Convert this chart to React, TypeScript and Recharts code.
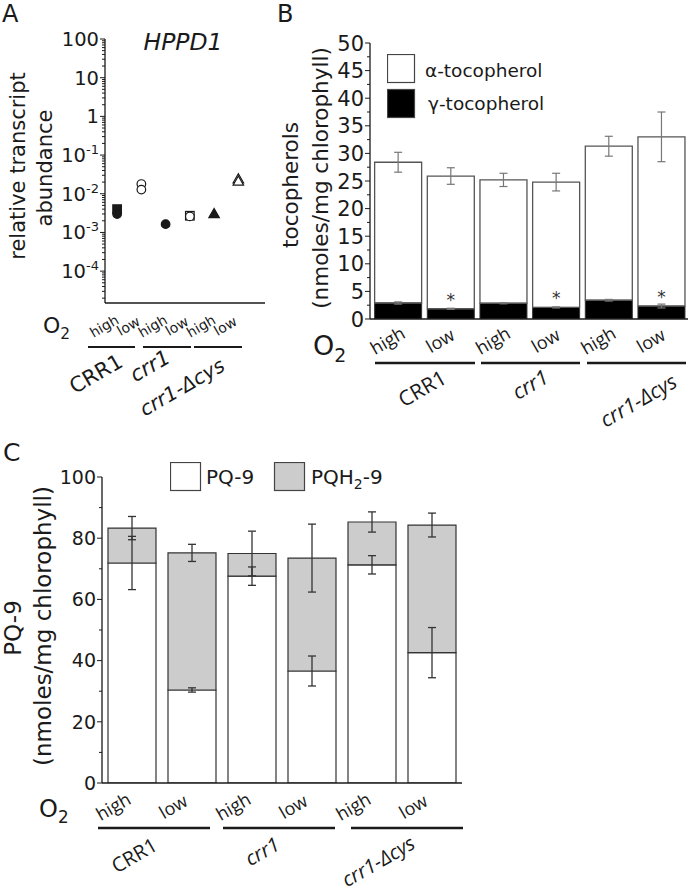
import React from 'react';
import {
  ScatterChart, Scatter, XAxis, YAxis, BarChart, Bar, ErrorBar, LabelList, Legend,
} from 'recharts';

const DEJAVU = '"DejaVu Sans", Verdana, sans-serif';
const OPEN = '"Open Sans", "DejaVu Sans", sans-serif';
const INK = '#1a1a1a';
const AXIS = { stroke: INK, strokeWidth: 1.3 };

// ---- A: HPPD1 transcript abundance (one value per marker, index = sample) ----
const aO2 = ['high', 'low', 'high', 'low', 'high', 'low'];
const aFilledSquare = [4.0e-3, null, null, null, null, null];
const aFilledCircle = [3.0e-3, null, 1.64e-3, null, null, null];
const aOpenSquare = [null, null, null, 2.7e-3, null, null];
const aOpenCircle = [null, 1.78e-2, null, 2.6e-3, null, null];
const aOpenCircle2 = [null, 1.28e-2, null, null, null, null];
const aFilledTriangle = [null, null, null, null, 2.9e-3, null];
const aOpenTriangle = [null, null, null, null, null, 2.3e-2];
const aOpenTriangle2 = [null, null, null, null, null, 2.0e-2];

// ---- B: tocopherols ----
const bO2 = ['high', 'low', 'high', 'low', 'high', 'low'];
const bGamma = [2.9, 1.85, 2.85, 2.1, 3.4, 2.35];
const bGammaErr = [0.2, 0.1, 0.1, 0.1, 0.15, 0.35];
const bAlpha = [25.5, 24.05, 22.35, 22.7, 27.9, 30.65];
const bTotalErr = [1.8, 1.5, 1.2, 1.6, 1.8, 4.5];
const bStars = ['', '*', '', '*', '', '*'];

// ---- C: PQ-9 ----
const cO2 = ['high', 'low', 'high', 'low', 'high', 'low'];
const cPQ = [71.9, 30.4, 67.6, 36.6, 71.3, 42.6];
const cPQErr = [8.7, 0.7, 3.0, 4.9, 3.0, 8.2];
const cPQH2 = [11.4, 44.8, 7.4, 36.9, 14.0, 41.7];
const cTotalErr = [3.8, 2.8, 7.3, 11.1, 3.3, 3.9];

const toPoints = (vals: (number | null)[]) =>
  vals.flatMap((v, i) => (v == null ? [] : [{ x: i + 1, y: v }]));

const aTicks: number[] = [];
for (let e = -5; e <= 2; e++) {
  for (let k = 1; k <= 9; k++) {
    const v = k * Math.pow(10, e);
    if (v >= 1.5e-5 && v <= 100.0001 && !(k > 1 && e === 2)) aTicks.push(Number(v.toPrecision(3)));
  }
}
const bTicks = Array.from({ length: 21 }, (_, i) => i * 2.5);
const cTicks = Array.from({ length: 11 }, (_, i) => i * 10);

const bData = bO2.map((o2, i) => ({
  o2, gamma: bGamma[i], gammaErr: bGammaErr[i], alpha: bAlpha[i], totalErr: bTotalErr[i], star: bStars[i],
}));
const cData = cO2.map((o2, i) => ({
  o2, pq: cPQ[i], pqErr: cPQErr[i], pqh2: cPQH2[i], totalErr: cTotalErr[i],
}));

const marker = (kind: string, filled: boolean) => (props: any) => {
  const { cx, cy } = props;
  const fill = filled ? INK : '#fff';
  if (kind === 'circle') return <circle cx={cx} cy={cy} r={4.3} fill={fill} stroke={INK} strokeWidth={1.2} />;
  if (kind === 'square') return <rect x={cx - 4.3} y={cy - 4.3} width={8.6} height={8.6} fill={fill} stroke={INK} strokeWidth={1.2} />;
  const s = 10.5;
  const h = s * 0.866;
  return (
    <polygon
      points={`${cx},${cy - (h * 2) / 3} ${cx - s / 2},${cy + h / 3} ${cx + s / 2},${cy + h / 3}`}
      fill={fill} stroke={INK} strokeWidth={1.2}
    />
  );
};

const LogTick = (props: any) => {
  const { x, y, payload } = props;
  const v = payload.value;
  const lg = Math.log10(v);
  const exp = Math.round(lg);
  const major = Math.abs(lg - exp) < 1e-6;
  return (
    <g>
      <line x1={x - (major ? 5 : 3)} x2={x} y1={y} y2={y} stroke={INK} strokeWidth={1} />
      {major && (
        <text x={x - 6} y={y + 7} textAnchor="end" fontSize={19.5} fontFamily={DEJAVU} fill={INK}>
          {exp >= 0 ? String(Math.pow(10, exp)) : (
            <>10<tspan dy={-8} fontSize={13}>{String(exp)}</tspan></>
          )}
        </text>
      )}
    </g>
  );
};

const LinTick = (props: any) => {
  const { x, y, payload, step, size } = props;
  const v = payload.value;
  const major = Math.abs(v / step - Math.round(v / step)) < 1e-6;
  return (
    <g>
      <line x1={x - (major ? 5 : 3)} x2={x} y1={y} y2={y} stroke={INK} strokeWidth={1} />
      {major && (
        <text x={x - 6} y={y + size * 0.36} textAnchor="end" fontSize={size} fontFamily={DEJAVU} fill={INK}>
          {v}
        </text>
      )}
    </g>
  );
};

// slanted O2 label, centred on its own middle so it sits right with or without the turn
const SlantTick = (props: any) => {
  const { x, y, payload, labels, offX, offY, size, family } = props;
  const text = labels ? labels[payload.value - 1] : payload.value;
  const cx = x + offX;
  const cy = y + offY;
  return (
    <g transform={`translate(${cx},${cy}) rotate(-30)`}>
      <text x={0} y={0} textAnchor="middle" dominantBaseline="central" fontSize={size} fontFamily={family} fill={INK}>
        {text}
      </text>
    </g>
  );
};

const StarLabel = (props: any) => {
  const { x, y, width, value } = props;
  if (!value) return null;
  return (
    <text x={x + width / 2} y={y - 3} textAnchor="middle" fontSize={17} fontFamily={DEJAVU} fill="#333" stroke="none">
      {value}
    </text>
  );
};

function PanelA() {
  return (
    <ScatterChart width={280} height={345} margin={{ top: 39, right: 15, bottom: 12, left: 45 }}>
      <XAxis
        type="number" dataKey="x" domain={[0.5, 7.1]} allowDataOverflow ticks={[1, 2, 3, 4, 5, 6]} interval={0}
        height={30} tickSize={0} tickMargin={0} tickLine={false} axisLine={AXIS}
        tick={(p: any) => <SlantTick {...p} labels={aO2} offX={-13} offY={23} size={14} family={DEJAVU} />}
      />
      <YAxis
        type="number" dataKey="y" scale="log" domain={[1.5e-5, 100]} allowDataOverflow ticks={aTicks} interval={0}
        width={60} tickSize={0} tickMargin={0} tickLine={false} axisLine={AXIS} tick={<LogTick />}
      />
      <Scatter data={toPoints(aOpenSquare)} shape={marker('square', false)} isAnimationActive={false} />
      <Scatter data={toPoints(aOpenCircle).concat(toPoints(aOpenCircle2))} shape={marker('circle', false)} isAnimationActive={false} />
      <Scatter data={toPoints(aFilledSquare)} shape={marker('square', true)} isAnimationActive={false} />
      <Scatter data={toPoints(aFilledCircle)} shape={marker('circle', true)} isAnimationActive={false} />
      <Scatter data={toPoints(aFilledTriangle)} shape={marker('triangle', true)} isAnimationActive={false} />
      <Scatter data={toPoints(aOpenTriangle).concat(toPoints(aOpenTriangle2))} shape={marker('triangle', false)} isAnimationActive={false} />
    </ScatterChart>
  );
}

const BLegend = () => (
  <svg width={200} height={70} style={{ display: 'block' }}>
    <rect x={0.5} y={0.5} width={27} height={28} fill="#fff" stroke="#444" strokeWidth={1.2} />
    <text x={38} y={23} fontSize={18.5} fontFamily={DEJAVU} fill={INK}>α-tocopherol</text>
    <rect x={0.5} y={35.5} width={27} height={28} fill="#000" stroke="#444" strokeWidth={1.2} />
    <text x={41} y={56} fontSize={18.5} fontFamily={DEJAVU} fill={INK}>γ-tocopherol</text>
  </svg>
);

function PanelB() {
  return (
    <BarChart width={373} height={360} data={bData} margin={{ top: 43, right: 5, bottom: 11, left: 0 }} barCategoryGap="5%">
      <XAxis
        dataKey="o2" interval={0} padding={{ left: 2, right: 0 }} height={30} tickSize={0} tickMargin={0}
        tickLine={false} axisLine={AXIS}
        tick={(p: any) => <SlantTick {...p} offX={-11} offY={21} size={18} family={OPEN} />}
      />
      <YAxis
        type="number" domain={[0, 50]} allowDataOverflow ticks={bTicks} interval={0} width={50}
        tickSize={0} tickMargin={0} tickLine={false} axisLine={AXIS} tick={<LinTick step={5} size={21} />}
      />
      <Legend
        layout="vertical" align="center" verticalAlign="middle"
        wrapperStyle={{ left: 67, top: 54, width: 200, height: 70 }}
        content={() => <BLegend />}
      />
      <Bar dataKey="gamma" stackId="t" fill="#000" stroke="#333" isAnimationActive={false}>
        <ErrorBar dataKey="gammaErr" width={4} stroke="#777" strokeWidth={1.2} />
        <LabelList dataKey="star" content={StarLabel} />
      </Bar>
      <Bar dataKey="alpha" stackId="t" fill="transparent" stroke="#555" strokeWidth={1.3} isAnimationActive={false}>
        <ErrorBar dataKey="totalErr" width={4} stroke="#777" strokeWidth={1.2} />
      </Bar>
    </BarChart>
  );
}

const CLegend = () => (
  <svg width={260} height={34} style={{ display: 'block' }}>
    <rect x={0.5} y={0.5} width={30} height={28} fill="#fff" stroke="#444" strokeWidth={1.2} />
    <text x={36} y={22} fontSize={20} fontFamily={DEJAVU} fill={INK}>PQ-9</text>
    <rect x={104.5} y={0.5} width={30} height={28} fill="#cccccc" stroke="#444" strokeWidth={1.2} />
    <text x={141} y={22} fontSize={20} fontFamily={DEJAVU} fill={INK}>
      PQH<tspan dy={5} fontSize={14}>2</tspan><tspan dy={-5}>-9</tspan>
    </text>
  </svg>
);

function PanelC() {
  return (
    <BarChart width={470} height={390} data={cData} margin={{ top: 37, right: 8, bottom: 12, left: 52 }} barCategoryGap="10%">
      <XAxis
        dataKey="o2" interval={0} height={35} tickSize={0} tickMargin={0} tickLine={false} axisLine={AXIS}
        tick={(p: any) => <SlantTick {...p} offX={-19} offY={23} size={18} family={OPEN} />}
      />
      <XAxis xAxisId="err" dataKey="o2" hide />
      <YAxis
        type="number" domain={[0, 100]} allowDataOverflow ticks={cTicks} interval={0} width={50}
        tickSize={0} tickMargin={0} tickLine={false} axisLine={AXIS} tick={<LinTick step={20} size={19} />}
      />
      <Legend
        layout="vertical" align="center" verticalAlign="middle"
        wrapperStyle={{ left: 170, top: 22, width: 260, height: 34 }}
        content={() => <CLegend />}
      />
      <Bar dataKey="pq" stackId="c" fill="#fff" stroke="#333" strokeWidth={1.2} isAnimationActive={false} />
      <Bar dataKey="pqh2" stackId="c" fill="#cccccc" stroke="#333" strokeWidth={1.2} isAnimationActive={false}>
        <ErrorBar dataKey="totalErr" width={4} stroke="#333" strokeWidth={1.3} />
      </Bar>
      <Bar xAxisId="err" dataKey="pq" fill="transparent" stroke="none" isAnimationActive={false}>
        <ErrorBar dataKey="pqErr" width={4} stroke="#333" strokeWidth={1.3} />
      </Bar>
    </BarChart>
  );
}

const Rot = ({ x, y, angle, size, italic, family, children }: any) => (
  <g transform={`translate(${x},${y}) rotate(${angle})`}>
    <text
      x={0} y={0} textAnchor="middle" dominantBaseline="central"
      fontSize={size} fontStyle={italic ? 'italic' : 'normal'} fontFamily={family} fill={INK}
    >
      {children}
    </text>
  </g>
);

const O2 = ({ x, y, size, sub }: any) => (
  <text x={x} y={y} fontSize={size} fontFamily={DEJAVU} fill={INK}>
    O<tspan dy={sub * 0.35} fontSize={size * 0.7}>2</tspan>
  </text>
);

export default function App() {
  return (
    <div style={{ position: 'absolute', left: 0, top: 0, width: 693, height: 893, background: '#fff' }}>
      <div style={{ position: 'absolute', left: 0, top: 0 }}><PanelA /></div>
      <div style={{ position: 'absolute', left: 320, top: 0 }}><PanelB /></div>
      <div style={{ position: 'absolute', left: 0, top: 440 }}><PanelC /></div>
      <svg width={693} height={893} style={{ position: 'absolute', left: 0, top: 0, pointerEvents: 'none' }}>
        {/* A */}
        <text x={2} y={22} fontSize={24} fontFamily={DEJAVU} fill={INK}>A</text>
        <text x={183} y={50} textAnchor="middle" fontSize={23.5} fontStyle="italic" fontFamily={DEJAVU} fill={INK}>HPPD1</text>
        <Rot x={18} y={166} angle={-90} size={21} family={DEJAVU}>relative transcript</Rot>
        <Rot x={45} y={168} angle={-90} size={21} family={DEJAVU}>abundance</Rot>
        <O2 x={43} y={333} size={22} sub={16} />
        <g stroke={INK} strokeWidth={1.8}>
          <line x1={88} x2={135} y1={347} y2={347} />
          <line x1={143} x2={191} y1={347} y2={347} />
          <line x1={194} x2={242} y1={347} y2={347} />
        </g>
        <Rot x={96} y={374} angle={-30} size={21} family={DEJAVU}>CRR1</Rot>
        <Rot x={150} y={366} angle={-30} size={21} italic family={DEJAVU}>crr1</Rot>
        <Rot x={182} y={387} angle={-30} size={20} italic family={DEJAVU}>crr1-Δcys</Rot>

        {/* B */}
        <text x={277} y={22} fontSize={24} fontFamily={DEJAVU} fill={INK}>B</text>
        <Rot x={290} y={185} angle={-90} size={21.5} family={DEJAVU}>tocopherols</Rot>
        <Rot x={320} y={178} angle={-90} size={21.5} family={DEJAVU}>(nmoles/mg chlorophyll)</Rot>
        <O2 x={313} y={355} size={27} sub={20} />
        <g stroke={INK} strokeWidth={2.5}>
          <line x1={375} x2={475} y1={363} y2={363} />
          <line x1={481} x2={580} y1={363} y2={363} />
          <line x1={587} x2={686} y1={363} y2={363} />
        </g>
        <Rot x={422} y={388} angle={-30} size={21} family={OPEN}>CRR1</Rot>
        <Rot x={530} y={384} angle={-30} size={21} italic family={OPEN}>crr1</Rot>
        <Rot x={638} y={400} angle={-30} size={21} italic family={OPEN}>crr1-Δcys</Rot>

        {/* C */}
        <text x={3} y={461} fontSize={25} fontFamily={DEJAVU} fill={INK}>C</text>
        <Rot x={13} y={628} angle={-90} size={23} family={DEJAVU}>PQ-9</Rot>
        <Rot x={43} y={626} angle={-90} size={23} family={DEJAVU}>(nmoles/mg chlorophyll)</Rot>
        <O2 x={39} y={817} size={24} sub={18} />
        <g stroke={INK} strokeWidth={2.5}>
          <line x1={98} x2={210} y1={828} y2={828} />
          <line x1={223} x2={335} y1={828} y2={828} />
          <line x1={351} x2={463} y1={828} y2={828} />
        </g>
        <Rot x={134} y={855} angle={-30} size={20} family={OPEN}>CRR1</Rot>
        <Rot x={262} y={851} angle={-30} size={20} italic family={OPEN}>crr1</Rot>
        <Rot x={378} y={861} angle={-30} size={20} italic family={OPEN}>crr1-Δcys</Rot>
      </svg>
    </div>
  );
}
